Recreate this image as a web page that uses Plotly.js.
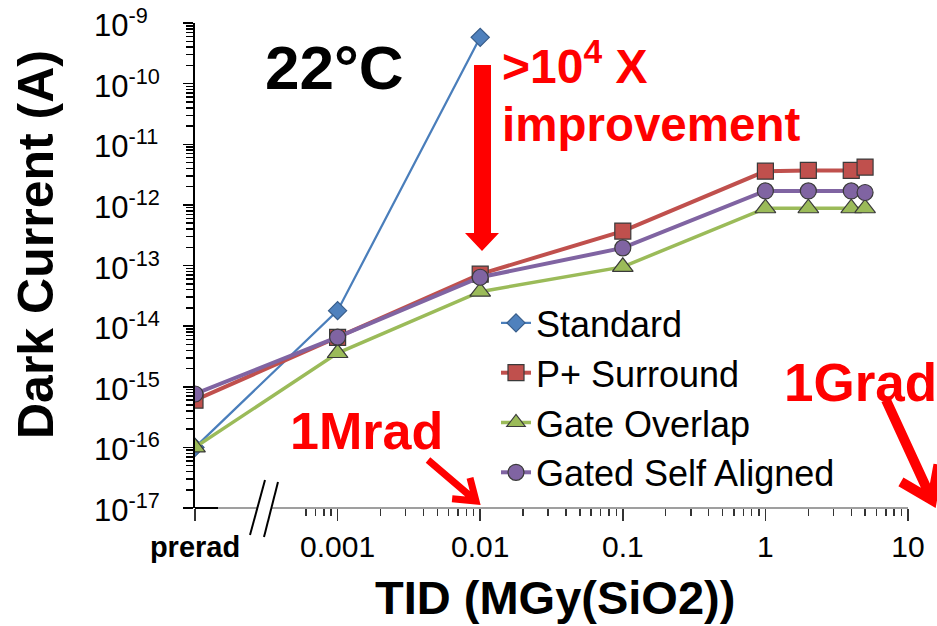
<!DOCTYPE html>
<html><head><meta charset="utf-8">
<script src="https://cdn.plot.ly/plotly-3.0.1.min.js"></script>
<style>html,body{margin:0;padding:0;background:#fff;}#chart{width:937px;height:626px;}</style>
</head><body><div id="chart"></div>
<script>
// ---- data ----
const seriesNames = ['Standard', 'P+ Surround', 'Gate Overlap', 'Gated Self Aligned'];
const tidStandard = [0.0001, 0.001, 0.01];           // 0.0001 plotted as "prerad"
const darkStandard = [1.0e-16, 1.8e-14, 5.8e-10];
const tidOthers = [0.0001, 0.001, 0.01, 0.1, 1, 2, 4, 5];
const darkPSurround = [6.0e-16, 6.5e-15, 7.2e-14, 3.7e-13, 3.6e-12, 3.7e-12, 3.7e-12, 4.2e-12];
const darkGateOverlap = [1.0e-16, 3.6e-15, 3.7e-14, 9.5e-14, 8.8e-13, 8.8e-13, 8.8e-13, 8.8e-13];
const darkGatedSelfAligned = [7.6e-16, 6.6e-15, 6.4e-14, 1.95e-13, 1.7e-12, 1.7e-12, 1.7e-12, 1.6e-12];
const xTickVals = [0.0001, 0.001, 0.01, 0.1, 1, 10];
const xTickText = ['<span style="font-size:29px"><b>prerad</b></span>', '0.001', '0.01', '0.1', '1', '10'];
const yTickExps = [-9, -10, -11, -12, -13, -14, -15, -16, -17];
const yTickText = ['10<sup>-9</sup>', '10<sup>-10</sup>', '10<sup>-11</sup>', '10<sup>-12</sup>', '10<sup>-13</sup>',
                   '10<sup>-14</sup>', '10<sup>-15</sup>', '10<sup>-16</sup>', '10<sup>-17</sup>'];

// ---- layout geometry (pixels -> paper) ----
const W = 937, H = 626, L = 195, R = 29, T = 23, B = 118;
const PW = W - L - R, PH = H - T - B;
const PX = x => (x - L) / PW;
const PY = y => (H - B - y) / PH;
const FONT = 'Liberation Sans, Arial, sans-serif';
const RED = '#FF0000';

// minor x ticks (2..9 per decade), only visible part after the break
const xMinor = [];
[0.0001, 0.001, 0.01, 0.1, 1].forEach(d => {
  for (let k = 2; k <= 9; k++) { if (d === 0.0001 && k < 6) continue; xMinor.push(d * k); }
});

const outline = {color: '#3a3a3a', width: 1.2};
const traces = [
  {x: tidStandard, y: darkStandard, name: seriesNames[0], mode: 'lines+markers',
   line: {color: '#4A7EBB', width: 2.25},
   marker: {symbol: 'diamond', size: 14, color: '#4F81BD', line: {color: '#385D8A', width: 1.2}}},
  {x: tidOthers, y: darkPSurround, name: seriesNames[1], mode: 'lines+markers',
   line: {color: '#C0504D', width: 4},
   marker: {symbol: 'square', size: 16, color: '#C0504D', line: outline}},
  {x: tidOthers, y: darkGateOverlap, name: seriesNames[2], mode: 'lines+markers',
   line: {color: '#9BBB59', width: 3.5},
   marker: {symbol: 'triangle-up', size: 18, color: '#9BBB59', line: outline}},
  {x: tidOthers, y: darkGatedSelfAligned, name: seriesNames[3], mode: 'lines+markers',
   line: {color: '#8064A2', width: 4},
   marker: {symbol: 'circle', size: 16, color: '#8064A2', line: outline}}
];

function line(x0, y0, x1, y1, color, width) {
  return {type: 'line', xref: 'paper', yref: 'paper', x0: PX(x0), y0: PY(y0), x1: PX(x1), y1: PY(y1),
          line: {color: color, width: width}};
}
function poly(pts, color) {
  const d = pts.map((p, i) => (i ? 'L' : 'M') + PX(p[0]) + ',' + PY(p[1])).join(' ') + ' Z';
  return {type: 'path', xref: 'paper', yref: 'paper', path: d, fillcolor: color, line: {width: 0}};
}
function openArrow(x0, y0, x1, y1, head, width) {
  const dx = x1 - x0, dy = y1 - y0, len = Math.hypot(dx, dy);
  const bx = -dx / len, by = -dy / len, a = 35 * Math.PI / 180;
  const w1 = [x1 + head * (bx * Math.cos(a) - by * Math.sin(a)), y1 + head * (bx * Math.sin(a) + by * Math.cos(a))];
  const w2 = [x1 + head * (bx * Math.cos(a) + by * Math.sin(a)), y1 + head * (-bx * Math.sin(a) + by * Math.cos(a))];
  const d = 'M' + PX(x0) + ',' + PY(y0) + ' L' + PX(x1) + ',' + PY(y1) +
            ' M' + PX(w1[0]) + ',' + PY(w1[1]) + ' L' + PX(x1) + ',' + PY(y1) + ' L' + PX(w2[0]) + ',' + PY(w2[1]);
  return {type: 'path', xref: 'paper', yref: 'paper', path: d, line: {color: RED, width: width}};
}

const shapes = [
  // broken x axis line
  line(195, 508, 257, 508, '#7f7f7f', 1.5),
  line(195, 508, 218, 508, '#000000', 2),
  line(271, 508, 908, 508, '#7f7f7f', 1.5),
  line(265, 480, 250, 535, '#000000', 2),
  line(278, 482, 264, 537, '#000000', 2),
  // big vertical arrow
  poly([[474, 65], [491, 65], [491, 233], [499, 233], [482, 251], [465, 233], [474, 233]], RED),
  // 1Mrad / 1Grad arrows
  openArrow(428, 460, 476, 501, 24, 7),
  openArrow(886, 400, 932, 500, 36, 10)
];

const annotations = [];
yTickExps.forEach((e, i) => annotations.push({
  xref: 'paper', yref: 'y', x: PX(92), y: e, xanchor: 'left', yanchor: 'middle', showarrow: false,
  text: yTickText[i], font: {family: FONT, size: 31, color: '#000'}
}));
annotations.push(
  {xref: 'paper', yref: 'paper', x: PX(36), y: PY(245), textangle: -90, showarrow: false,
   xanchor: 'center', yanchor: 'middle', text: '<b>Dark Current (A)</b>', font: {family: FONT, size: 50, color: '#000'}},
  {xref: 'paper', yref: 'paper', x: PX(555), y: PY(626), showarrow: false,
   xanchor: 'center', yanchor: 'bottom', text: '<b>TID (MGy(SiO2))</b>', font: {family: FONT, size: 47, color: '#000'}},
  {xref: 'paper', yref: 'paper', x: PX(334), y: PY(67), showarrow: false,
   xanchor: 'center', yanchor: 'middle', text: '<b>22°C</b>', font: {family: FONT, size: 62, color: '#000'}},
  {xref: 'paper', yref: 'paper', x: PX(500), y: PY(95), showarrow: false,
   xanchor: 'left', yanchor: 'bottom', text: '<b>&gt;10<sup>4</sup> X</b>', font: {family: FONT, size: 48, color: RED}},
  {xref: 'paper', yref: 'paper', x: PX(500), y: PY(153), showarrow: false,
   xanchor: 'left', yanchor: 'bottom', text: '<b>improvement</b>', font: {family: FONT, size: 47.5, color: RED}},
  {xref: 'paper', yref: 'paper', x: PX(288), y: PY(462), showarrow: false,
   xanchor: 'left', yanchor: 'bottom', text: '<b>1Mrad</b>', font: {family: FONT, size: 52, color: RED}},
  {xref: 'paper', yref: 'paper', x: PX(782), y: PY(414), showarrow: false,
   xanchor: 'left', yanchor: 'bottom', text: '<b>1Grad</b>', font: {family: FONT, size: 53, color: RED}}
);

const layout = {
  width: W, height: H,
  margin: {l: L, r: R, t: T, b: B, pad: 0},
  paper_bgcolor: '#ffffff', plot_bgcolor: '#ffffff',
  font: {family: FONT, color: '#000'},
  showlegend: true,
  legend: {x: PX(496), y: PY(293), xanchor: 'left', yanchor: 'top', bgcolor: 'rgba(0,0,0,0)',
           font: {family: FONT, size: 36, color: '#000'}, tracegroupgap: 0},
  xaxis: {type: 'log', range: [-4, 1], showline: false, showgrid: false, zeroline: false,
          tickmode: 'array', tickvals: xTickVals, ticktext: xTickText,
          ticks: 'outside', ticklen: 12, tickwidth: 1.5, tickcolor: '#333',
          tickfont: {family: FONT, size: 30, color: '#000'},
          minor: {tickmode: 'array', tickvals: xMinor, ticks: 'outside', ticklen: 7, tickwidth: 1.5, tickcolor: '#333', showgrid: false}},
  yaxis: {type: 'log', range: [-17, -9], showline: true, linecolor: '#000', linewidth: 2,
          showgrid: false, zeroline: false, dtick: 1, tick0: 0, showticklabels: false,
          ticks: 'outside', ticklen: 10, tickwidth: 1.5, tickcolor: '#000',
          minor: {dtick: 'D1', ticks: 'outside', ticklen: 7, tickwidth: 1.5, tickcolor: '#000', showgrid: false}},
  shapes: shapes,
  annotations: annotations
};

Plotly.newPlot('chart', traces, layout, {displayModeBar: false, staticPlot: true});
</script>
</body></html>
